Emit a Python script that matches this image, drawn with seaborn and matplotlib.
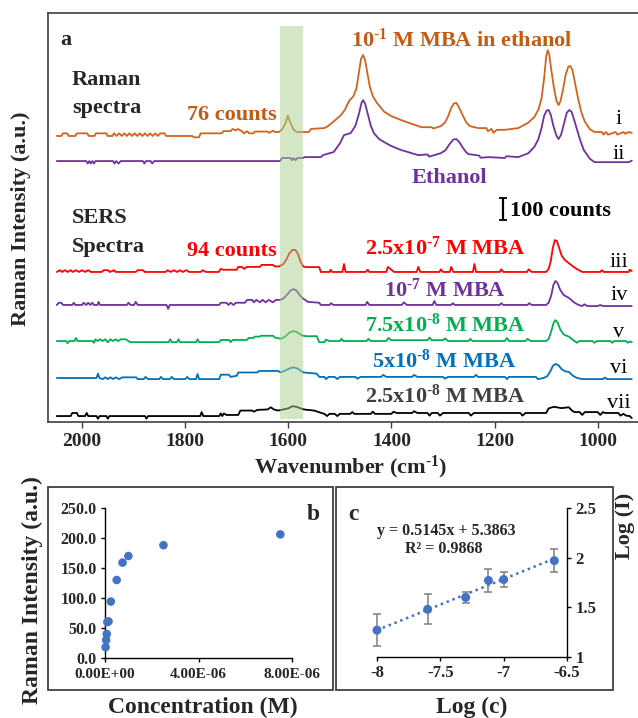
import numpy as np
import pandas as pd
import matplotlib
matplotlib.use('Agg')
import matplotlib.pyplot as plt
import seaborn as sns
from matplotlib.patches import Rectangle

sns.set_theme(style='white')
plt.rcParams['font.family'] = ['Liberation Serif', 'DejaVu Serif']
plt.rcParams['font.weight'] = 'bold'
plt.rcParams['mathtext.fontset'] = 'custom'
plt.rcParams['mathtext.rm'] = 'Liberation Serif:bold'
plt.rcParams['mathtext.it'] = 'Liberation Serif:bold:italic'
plt.rcParams['mathtext.bf'] = 'Liberation Serif:bold'
plt.rcParams['axes.unicode_minus'] = False

# ---------------- data: panel a (wavenumber, counts above baseline) ----------------
spec_i = [(2049,0),(2040,0),(2037,12),(2029,12),(2026,0),(2013,0),(2010,12),(1990,12),(1987,0),(1976,0),(1973,12),(1953,12),(1950,0),(1941,0),(1938,12),(1933,0),(1928,12),(1923,0),(1918,12),(1913,0),(1908,12),(1903,0),(1898,12),(1893,0),(1888,12),(1883,0),(1878,12),(1873,0),(1868,12),(1863,0),(1858,12),(1853,0),(1848,12),(1840,12),(1837,0),(1786,0),(1783,-6),(1773,-6),(1770,12),(1729,12),(1726,22),(1712,22),(1708,32),(1702,25),(1698,32),(1690,22),(1686,12),(1680,22),(1676,12),(1668,12),(1665,20),(1640,20),(1637,14),(1630,24),(1626,18),(1618,18),(1612,30),(1606,55),(1601,92),(1596,60),(1590,30),(1584,18),(1560,18),(1556,32),(1530,36),(1523,45),(1510,70),(1498,95),(1490,120),(1482,160),(1474,180),(1468,215),(1463,290),(1459,350),(1455,368),(1451,345),(1447,290),(1442,225),(1436,180),(1428,150),(1414,110),(1400,90),(1381,72),(1360,55),(1342,40),(1322,40),(1319,34),(1304,45),(1296,62),(1290,90),(1284,128),(1279,148),(1274,150),(1269,130),(1262,95),(1255,62),(1248,45),(1232,36),(1216,36),(1213,22),(1206,32),(1202,14),(1196,28),(1180,28),(1154,36),(1135,60),(1123,86),(1115,120),(1109,170),(1104,260),(1100,360),(1097,390),(1094,370),(1090,300),(1085,220),(1080,160),(1076,140),(1072,160),(1067,215),(1062,280),(1057,315),(1053,318),(1049,300),(1044,240),(1038,170),(1032,110),(1025,65),(1015,30),(1006,18),(992,18),(989,6),(984,18),(980,6),(965,18),(962,6),(950,18),(947,10),(940,18),(934,14)]
spec_ii = [(2049,0),(1992,0),(1989,-11),(1986,0),(1983,-11),(1980,0),(1977,-11),(1974,0),(1940,0),(1937,-11),(1934,0),(1929,-11),(1925,0),(1882,0),(1879,-11),(1876,0),(1867,0),(1864,-11),(1860,0),(1616,0),(1612,14),(1596,14),(1593,4),(1590,14),(1586,4),(1582,14),(1572,14),(1568,18),(1537,18),(1533,27),(1512,41),(1500,80),(1492,118),(1479,127),(1470,160),(1463,215),(1458,265),(1455,277),(1451,260),(1446,215),(1440,160),(1434,127),(1424,100),(1414,86),(1400,68),(1381,50),(1348,27),(1330,30),(1327,20),(1304,36),(1295,50),(1288,75),(1280,98),(1274,100),(1268,85),(1262,62),(1255,40),(1251,32),(1230,25),(1227,15),(1212,18),(1180,14),(1177,22),(1154,18),(1135,35),(1123,64),(1115,100),(1109,150),(1104,205),(1099,230),(1095,232),(1091,210),(1086,160),(1080,115),(1076,100),(1071,120),(1066,165),(1060,220),(1055,232),(1051,225),(1046,190),(1041,150),(1034,95),(1027,50),(1015,10),(1006,-5),(940,-5),(934,2)]
spec_iii = [(2049,0),(2043,8),(2039,0),(2033,8),(2028,0),(2022,8),(2018,0),(2012,8),(2006,0),(2000,8),(1994,0),(1988,8),(1983,0),(1962,0),(1958,8),(1950,8),(1946,0),(1938,8),(1935,0),(1896,0),(1892,8),(1882,8),(1878,0),(1838,0),(1834,8),(1828,0),(1822,8),(1816,0),(1810,8),(1805,0),(1798,8),(1792,0),(1770,0),(1766,8),(1760,0),(1735,0),(1731,14),(1726,10),(1700,10),(1697,23),(1690,23),(1686,14),(1680,23),(1655,23),(1652,32),(1630,32),(1626,25),(1618,25),(1610,35),(1604,55),(1598,85),(1592,100),(1586,100),(1581,80),(1576,45),(1571,25),(1566,22),(1540,22),(1537,0),(1520,0),(1518,10),(1515,0),(1495,0),(1492,36),(1489,0),(1450,0),(1446,10),(1443,0),(1410,0),(1407,23),(1400,10),(1395,0),(1351,0),(1348,23),(1344,0),(1307,0),(1304,12),(1300,0),(1287,0),(1284,23),(1280,0),(1242,0),(1239,36),(1236,0),(1190,0),(1187,12),(1183,0),(1137,0),(1134,12),(1128,0),(1100,0),(1095,15),(1091,50),(1087,110),(1083,145),(1079,140),(1075,110),(1070,75),(1064,55),(1056,40),(1045,20),(1037,9),(1030,0),(995,0),(992,8),(988,0),(940,0),(938,10),(934,4)]
spec_iv = [(2049,0),(2045,10),(2040,10),(2037,0),(2019,0),(2016,10),(2013,0),(2000,0),(1997,10),(1992,0),(1988,10),(1984,0),(1980,10),(1977,0),(1970,0),(1968,14),(1965,0),(1913,0),(1910,10),(1906,0),(1899,0),(1896,14),(1892,0),(1836,0),(1833,-18),(1830,0),(1734,0),(1731,10),(1720,10),(1716,0),(1712,10),(1706,0),(1702,10),(1684,10),(1680,23),(1670,23),(1667,12),(1662,23),(1655,12),(1650,23),(1644,12),(1638,23),(1630,12),(1624,23),(1616,23),(1610,28),(1603,45),(1596,65),(1590,72),(1584,65),(1578,45),(1572,30),(1562,14),(1540,10),(1537,0),(1520,0),(1517,8),(1513,0),(1450,0),(1447,14),(1443,0),(1380,0),(1376,12),(1370,0),(1320,0),(1317,18),(1313,0),(1284,0),(1281,8),(1277,0),(1190,0),(1187,8),(1183,0),(1136,0),(1133,8),(1128,0),(1100,0),(1095,10),(1090,45),(1086,90),(1082,109),(1078,100),(1073,70),(1066,45),(1056,32),(1045,10),(1037,0),(1030,-5),(1026,3),(1020,-5),(1000,-5),(995,0),(990,-5),(934,-5)]
spec_v = [(2049,0),(2031,0),(2028,-10),(2025,0),(2015,0),(2012,14),(2009,0),(1980,0),(1977,-8),(1974,8),(1970,0),(1965,8),(1960,0),(1955,8),(1950,-6),(1945,8),(1940,0),(1935,8),(1930,0),(1925,8),(1915,8),(1910,0),(1907,-5),(1832,-5),(1829,8),(1826,-5),(1816,-5),(1813,8),(1810,-5),(1779,-5),(1776,8),(1773,-5),(1734,-5),(1731,5),(1715,5),(1712,-5),(1708,5),(1680,5),(1677,14),(1668,14),(1665,20),(1656,20),(1653,24),(1630,24),(1626,16),(1615,10),(1606,20),(1598,38),(1591,45),(1585,42),(1580,35),(1573,25),(1565,22),(1545,22),(1540,-5),(1530,-5),(1527,6),(1520,0),(1500,0),(1497,10),(1494,0),(1448,0),(1445,10),(1440,0),(1410,0),(1406,14),(1400,4),(1330,4),(1326,16),(1322,4),(1300,4),(1296,12),(1290,0),(1250,0),(1247,10),(1243,0),(1180,0),(1176,14),(1172,0),(1140,0),(1136,10),(1130,0),(1100,0),(1095,10),(1090,45),(1086,80),(1082,95),(1078,85),(1072,50),(1066,30),(1056,20),(1045,0),(1040,-8),(1036,0),(1010,0),(1006,-8),(1002,0),(975,0),(972,-8),(968,0),(945,0),(942,-8),(938,-2),(934,-5)]
spec_vi = [(2049,0),(1972,0),(1969,20),(1966,0),(1960,-5),(1955,3),(1950,-5),(1945,3),(1940,-5),(1935,3),(1928,-5),(1922,3),(1895,3),(1892,-5),(1880,-5),(1877,5),(1872,-5),(1850,-5),(1847,5),(1843,-5),(1830,-5),(1826,5),(1822,-5),(1800,-5),(1796,5),(1792,-5),(1779,-5),(1776,18),(1773,-5),(1734,-5),(1731,15),(1715,15),(1712,5),(1700,10),(1697,25),(1660,25),(1657,32),(1620,32),(1615,25),(1605,35),(1597,44),(1590,48),(1583,44),(1577,35),(1570,25),(1545,20),(1540,5),(1530,5),(1527,-5),(1522,5),(1510,5),(1505,-5),(1500,5),(1470,5),(1466,-3),(1460,5),(1420,5),(1416,14),(1410,5),(1360,5),(1356,14),(1350,5),(1300,5),(1296,-3),(1290,5),(1240,5),(1236,14),(1232,5),(1180,5),(1176,-5),(1172,5),(1120,5),(1116,-5),(1105,0),(1098,8),(1092,30),(1087,55),(1082,64),(1076,58),(1070,40),(1063,30),(1056,28),(1048,10),(1040,0),(1030,-5),(990,-5),(986,2),(982,-5),(934,-5)]
spec_vii = [(2049,0),(2022,0),(2019,14),(2010,14),(2007,0),(1994,0),(1991,14),(1988,0),(1972,0),(1969,-12),(1966,0),(1953,0),(1950,-12),(1947,0),(1878,0),(1875,-12),(1872,0),(1771,0),(1768,18),(1765,0),(1734,0),(1731,12),(1728,0),(1725,12),(1720,5),(1697,5),(1693,25),(1670,25),(1667,20),(1660,28),(1640,30),(1634,40),(1628,30),(1620,25),(1610,30),(1600,35),(1592,45),(1584,42),(1576,35),(1570,30),(1550,25),(1537,15),(1530,10),(1525,0),(1520,10),(1510,10),(1505,0),(1500,10),(1480,10),(1476,18),(1472,10),(1440,10),(1436,20),(1432,10),(1400,10),(1396,20),(1390,14),(1360,14),(1356,22),(1350,14),(1330,14),(1326,2),(1322,14),(1310,14),(1306,2),(1300,14),(1250,14),(1246,2),(1240,14),(1150,14),(1146,2),(1140,14),(1100,14),(1095,35),(1085,42),(1070,36),(1056,40),(1050,25),(1045,18),(1035,18),(1030,5),(1025,18),(1000,18),(995,5),(990,18),(986,14),(960,14),(956,2),(950,10),(945,2),(938,0),(934,-9)]

spectra_names = ['i', 'ii', 'iii', 'iv', 'v', 'vi', 'vii']
spectra_data = [spec_i, spec_ii, spec_iii, spec_iv, spec_v, spec_vi, spec_vii]
spectra_colors = ['#D0641E', '#7030A0', '#FF0000', '#7030A0', '#00B050', '#0070C0', '#000000']
stack_offsets = [1300, 1186, 682, 532, 368, 200, 27]   # vertical stacking (counts)
wn_ticks = [2000, 1800, 1600, 1400, 1200, 1000]

# ---------------- data: panel b ----------------
conc_M = [2.5e-8, 5e-8, 7.5e-8, 1e-7, 1.5e-7, 2.5e-7, 5e-7, 7.5e-7, 1e-6, 2.5e-6, 7.5e-6]
intensity_b = [18, 30, 40, 60, 61, 94, 130, 159, 170, 188, 206]
b_yticks = [0, 50, 100, 150, 200, 250]
b_yticklabels = ['0.0', '50.0', '100.0', '150.0', '200.0', '250.0']
b_xticks = [0, 4e-6, 8e-6]
b_xticklabels = ['0.00E+00', '4.00E-06', '8.00E-06']

# ---------------- data: panel c ----------------
log_c = [-8.0, -7.6, -7.3, -7.12, -7.0, -6.6]
log_I = [1.27, 1.48, 1.60, 1.77, 1.78, 1.97]
log_I_err = [0.16, 0.15, 0.055, 0.12, 0.08, 0.115]
fit_slope, fit_intercept = 0.5145, 5.3863
c_xticks = [-8, -7.5, -7, -6.5]
c_xticklabels = ['-8', '-7.5', '-7', '-6.5']
c_yticks = [1, 1.5, 2, 2.5]
c_yticklabels = ['1', '1.5', '2', '2.5']

# ---------------- figure ----------------
W, H = 638, 718
fig = plt.figure(figsize=(W / 100, H / 100), dpi=100)
fig.patch.set_facecolor('white')

def fx(x):
    return x / W

def fy(y):
    return 1 - y / H

def box(l, t, r, b):
    return [fx(l), fy(b), fx(r) - fx(l), fy(t) - fy(b)]

def ftext(x, y, s, **kw):
    kw.setdefault('fontweight', 'bold')
    kw.setdefault('va', 'baseline')
    fig.text(fx(x), fy(y), s, **kw)

SPINE = '#404040'

# ---------- panel a ----------
axa = fig.add_axes(box(48, 13, 640, 422))
rows = []
for name, data, off in zip(spectra_names, spectra_data, stack_offsets):
    for wn, v in data:
        rows.append({'wn': wn, 'y': v + off, 'spec': name})
dfa = pd.DataFrame(rows)
sns.lineplot(data=dfa, x='wn', y='y', hue='spec', hue_order=spectra_names,
             palette=spectra_colors, estimator=None, sort=False, legend=False,
             linewidth=1.3, ax=axa)
axa.set_xlim(2066, 918)
axa.set_ylim(0, 1859)
axa.axvspan(1616, 1572, ymin=0.007, ymax=0.968, color='#A9D18E', alpha=0.5, lw=0, zorder=5)
axa.set_xticks(wn_ticks)
axa.set_xticklabels([str(t) for t in wn_ticks], fontsize=14, fontweight='bold')
axa.set_yticks([])
axa.set_xlabel('')
axa.set_ylabel('')
for s in ['left', 'top', 'bottom']:
    axa.spines[s].set_color(SPINE)
    axa.spines[s].set_linewidth(1.2)
axa.spines['right'].set_visible(False)
axa.tick_params(axis='x', direction='out', length=4, width=1, color=SPINE, pad=4, bottom=True)
# 100-count scale bar
axa.errorbar([1183], [968], yerr=[50], color='black', capsize=3, elinewidth=1.6, capthick=1.3)

ftext(60, 45, 'a', fontsize=16)
ftext(72, 85, 'Raman', fontsize=16)
ftext(72, 113, 'spectra', fontsize=16)
ftext(72, 223, 'SERS', fontsize=16)
ftext(72, 252, 'Spectra', fontsize=16)
ftext(277, 120, '76 counts', fontsize=16, color='#C55A11', ha='right')
ftext(277, 256, '94 counts', fontsize=16, color='#FF0000', ha='right')
ftext(462, 47, r'10$^{\text{-1}}$ M MBA in ethanol', fontsize=16, color='#C55A11', ha='center')
ftext(449, 183, 'Ethanol', fontsize=16, color='#7030A0', ha='center')
ftext(510, 216, '100 counts', fontsize=16, color='black', ha='left')
ftext(445, 255, r'2.5x10$^{\text{-7}}$ M MBA', fontsize=16, color='#FF0000', ha='center')
ftext(445, 297, r'10$^{\text{-7}}$ M MBA', fontsize=16, color='#7030A0', ha='center')
ftext(445, 332, r'7.5x10$^{\text{-8}}$ M MBA', fontsize=16, color='#00B050', ha='center')
ftext(444, 368, r'5x10$^{\text{-8}}$ M MBA', fontsize=16, color='#0070C0', ha='center')
ftext(445, 403, r'2.5x10$^{\text{-8}}$ M MBA', fontsize=16, color='#404040', ha='center')
for lab, yb in zip(spectra_names, [124, 159, 267, 300, 337, 373, 408]):
    ftext(619, yb, lab, fontsize=16, fontweight='normal', ha='center', color='black')
ftext(351, 473, r'Wavenumber (cm$^{\text{-1}}$)', fontsize=16, ha='center')
fig.text(fx(21), fy(219), 'Raman Intensity (a.u.)', rotation=90, fontsize=16,
         fontweight='bold', ha='center', va='center')

# ---------- panel b ----------
fig.add_artist(Rectangle((fx(48), fy(690)), fx(333) - fx(48), fy(487) - fy(690),
                         transform=fig.transFigure, fill=False, ec=SPINE, lw=1.3))
axb = fig.add_axes(box(105, 508, 292, 658))
sns.scatterplot(x=conc_M, y=intensity_b, ax=axb, color='#4472C4', s=38,
                edgecolor='none', clip_on=False, zorder=3)
axb.set_xlim(0, 8e-6)
axb.set_ylim(0, 250)
axb.set_xticks(b_xticks)
axb.set_xticklabels(b_xticklabels, fontsize=11, fontweight='bold')
axb.set_yticks(b_yticks)
axb.set_yticklabels(b_yticklabels, fontsize=11.5, fontweight='bold')
for s in ['top', 'right']:
    axb.spines[s].set_visible(False)
for s in ['left', 'bottom']:
    axb.spines[s].set_color('black')
    axb.spines[s].set_linewidth(1.0)
axb.tick_params(axis='x', direction='out', length=3, width=1, color='black', pad=4, bottom=True)
axb.tick_params(axis='y', direction='out', length=3, width=1, color='black', pad=3, left=True)
axb.set_facecolor('none')
ftext(313, 520, 'b', fontsize=17, ha='center')
ftext(203, 713, 'Concentration (M)', fontsize=17, ha='center')
fig.text(fx(32), fy(590), 'Raman Intensity (a.u.)', rotation=90, fontsize=17,
         fontweight='bold', ha='center', va='center')

# ---------- panel c ----------
fig.add_artist(Rectangle((fx(336), fy(690)), fx(613) - fx(336), fy(487) - fy(690),
                         transform=fig.transFigure, fill=False, ec=SPINE, lw=1.3))
axc = fig.add_axes(box(377, 508, 567, 657))
fit_x = [log_c[0], log_c[-1]]
fit_y = [fit_slope * v + fit_intercept for v in fit_x]
sns.lineplot(x=fit_x, y=fit_y, ax=axc, color='#4472C4', linestyle=(0, (1, 1.5)), linewidth=1.8)
eb = axc.errorbar(log_c, log_I, yerr=log_I_err, fmt='none', ecolor='#7f7f7f', elinewidth=1.1,
                  capsize=3, capthick=1.1, zorder=2)
for part in eb.lines:
    if part is None:
        continue
    for art in (part if isinstance(part, (list, tuple)) else [part]):
        art.set_clip_on(False)
sns.scatterplot(x=log_c, y=log_I, ax=axc, color='#4472C4', s=42, edgecolor='none',
                zorder=3, clip_on=False)
axc.set_xlim(-8, -6.5)
axc.set_ylim(1, 2.5)
axc.set_xticks(c_xticks)
axc.set_xticklabels(c_xticklabels, fontsize=12, fontweight='bold')
axc.yaxis.tick_right()
axc.set_yticks(c_yticks)
axc.set_yticklabels(c_yticklabels, fontsize=12, fontweight='bold')
for s in ['top', 'left']:
    axc.spines[s].set_visible(False)
for s in ['right', 'bottom']:
    axc.spines[s].set_color('black')
    axc.spines[s].set_linewidth(1.0)
axc.tick_params(direction='out', length=3, width=1, color='black', pad=3, bottom=True, right=True, left=False)
axc.set_facecolor('none')
ftext(353, 520, 'c', fontsize=17, ha='center')
ftext(446, 535, 'y = 0.5145x + 5.3863', fontsize=11.5, ha='center', color='#262626')
ftext(444, 553, 'R² = 0.9868', fontsize=11.5, ha='center', color='#262626')
ftext(472, 713, 'Log (c)', fontsize=17, ha='center')
fig.text(fx(625), fy(526), 'Log (I)', rotation=90, fontsize=16,
         fontweight='bold', ha='center', va='center')

fig.savefig('out.png', dpi=100, facecolor='white')
